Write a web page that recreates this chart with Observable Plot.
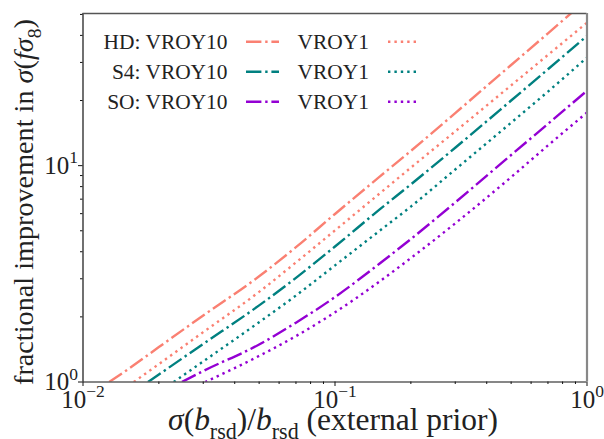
<!DOCTYPE html>
<html><head><meta charset="utf-8">
<script src="https://cdn.jsdelivr.net/npm/d3@7"></script>
<script src="https://cdn.jsdelivr.net/npm/@observablehq/plot@0.6"></script>
<style>body{margin:0;background:#fff}svg{display:block}svg text{font-family:"Liberation Serif","Times New Roman",Times,serif}</style>
</head><body><div id="chart"></div>
<script>
// ---- data ----
const xHD10 = [0.0127, 0.015, 0.02, 0.03, 0.05, 0.07, 0.1, 0.15, 0.2, 0.3, 0.5, 0.7, 1];
const yHD10 = [1.0, 1.14, 1.45, 2.03, 3.08, 4.2, 5.98, 8.87, 11.7, 17.5, 29.2, 40.9, 58.7];
const xHD1  = [0.0159, 0.02, 0.03, 0.05, 0.07, 0.1, 0.15, 0.2, 0.3, 0.5, 0.7, 1];
const yHD1  = [1.0, 1.21, 1.70, 2.61, 3.57, 5.02, 7.42, 9.79, 14.4, 23.5, 32.5, 45.8];
const xS410 = [0.0181, 0.02, 0.03, 0.05, 0.07, 0.1, 0.15, 0.2, 0.3, 0.5, 0.7, 1];
const yS410 = [1.0, 1.083, 1.50, 2.26, 3.03, 4.23, 6.26, 8.19, 12.1, 20.0, 27.9, 39.8];
const xS41  = [0.0229, 0.03, 0.05, 0.07, 0.1, 0.15, 0.2, 0.3, 0.5, 0.7, 1];
const yS41  = [1.0, 1.245, 1.89, 2.51, 3.46, 4.99, 6.47, 9.60, 15.8, 22.0, 31.6];
const xSO10 = [0.0247, 0.03, 0.05, 0.07, 0.1, 0.15, 0.2, 0.3, 0.5, 0.7, 1];
const ySO10 = [1.0, 1.124, 1.49, 1.88, 2.47, 3.52, 4.58, 6.76, 11.2, 15.6, 22.2];
const xSO1  = [0.0305, 0.05, 0.07, 0.1, 0.15, 0.2, 0.3, 0.5, 0.7, 1];
const ySO1  = [1.0, 1.32, 1.63, 2.10, 2.91, 3.74, 5.41, 8.85, 12.4, 17.6];

const surveys = ["HD", "S4", "SO"];
const colors = ["#FA8072", "#008080", "#9400D3"];
const models = ["VROY10", "VROY1"];
const xMajorTicks = [0.01, 0.1, 1];
const xMinorTicks = [0.02,0.03,0.04,0.05,0.06,0.07,0.08,0.09,0.2,0.3,0.4,0.5,0.6,0.7,0.8,0.9];
const yMajorTicks = [1, 10];
const yMinorTicks = [2,3,4,5,6,7,8,9,20,30,40,50];

const dashes = {VROY10: "15.4,3.8,2.4,3.8", VROY1: "2.4,4"};
const seriesList = [
  {survey: "HD", model: "VROY10", xs: xHD10, ys: yHD10},
  {survey: "HD", model: "VROY1",  xs: xHD1,  ys: yHD1},
  {survey: "S4", model: "VROY10", xs: xS410, ys: yS410},
  {survey: "S4", model: "VROY1",  xs: xS41,  ys: yS41},
  {survey: "SO", model: "VROY10", xs: xSO10, ys: ySO10},
  {survey: "SO", model: "VROY1",  xs: xSO1,  ys: ySO1}
];
const colorOf = s => colors[surveys.indexOf(s)];

const FONT = '"Liberation Serif", "Times New Roman", Times, serif';
const INK = "#222";
const TICKFS = 25;

const lineMarks = seriesList.map(s => Plot.line(
  s.xs.map((x, i) => ({x, y: s.ys[i]})),
  {x: "x", y: "y", stroke: colorOf(s.survey), strokeWidth: 2.4,
   strokeDasharray: dashes[s.model], strokeLinecap: "butt",
   curve: "monotone-x", clip: true}
));

const svg = Plot.plot({
  width: 604, height: 439,
  marginLeft: 82.5, marginRight: 17.5, marginTop: 13, marginBottom: 57.5,
  style: {fontFamily: FONT, background: "white", color: INK, overflow: "visible"},
  x: {type: "log", domain: [0.01, 1]},
  y: {type: "log", domain: [1, 50.5]},
  marks: [
    ...lineMarks,
    Plot.axisX(xMinorTicks, {tickSize: 2.5, text: null, label: null, stroke: "#111"}),
    Plot.axisX(xMajorTicks, {tickSize: 4.5, tickPadding: 3.5, fontSize: TICKFS, label: null, stroke: "#111",
      tickFormat: d => "10^" + String(Math.round(Math.log10(d))).replace("-", "\u2212")}),
    Plot.axisY(yMinorTicks, {tickSize: 2.5, text: null, label: null, stroke: "#111"}),
    Plot.axisY(yMajorTicks, {tickSize: 4.5, tickPadding: 0.5, fontSize: TICKFS, label: null, stroke: "#111",
      tickFormat: d => "10^" + String(Math.round(Math.log10(d)))}),
    Plot.ruleX([0.01], {stroke: "#111", strokeWidth: 1.2}),
    Plot.ruleY([1], {stroke: "#111", strokeWidth: 1.2}),
    Plot.ruleY([50.5], {stroke: "#555", strokeWidth: 1.5}),
    Plot.ruleX([1], {stroke: "#888", strokeWidth: 2.2})
  ]
});
document.getElementById("chart").appendChild(svg);

// ---- rich text helper (sub/superscripts, italics) ----
function rich(textSel, parts, fs) {
  textSel.text(null);
  let cur = 0;
  parts.forEach(p => {
    const want = p.s === "sub" ? 0.28 * fs : p.s === "sup" ? -0.42 * fs : 0;
    const ts = textSel.append("tspan").text(p.t);
    if (want !== cur) ts.attr("dy", want - cur);
    cur = want;
    if (p.s) ts.attr("font-size", 0.7 * fs);
    if (p.i) ts.attr("font-style", "italic");
  });
}
// scale a text's font so its rendered length matches a target length
function fit(textSel, parts, fs, target) {
  rich(textSel.attr("font-size", fs), parts, fs);
  const len = textSel.node().getComputedTextLength();
  const f2 = fs * target / len;
  rich(textSel.attr("font-size", f2), parts, f2);
  return f2;
}

const root = d3.select(svg);
root.selectAll('g[aria-label="x-axis tick label"] text, g[aria-label="y-axis tick label"] text').each(function() {
  const [base, exp] = this.textContent.split("^");
  d3.select(this).attr("font-family", FONT);
  rich(d3.select(this), [{t: base}, {t: exp, s: "sup"}], TICKFS);
});

// axis labels
const yl = root.append("text")
  .attr("transform", "translate(33,202) rotate(-90)")
  .attr("text-anchor", "middle").attr("fill", INK)
  .attr("font-family", FONT);
fit(yl, [{t: "fractional improvement in "}, {t: "σ", i: 1}, {t: "("}, {t: "f", i: 1}, {t: "σ", i: 1}, {t: "8", s: "sub"}, {t: ")"}], 25, 366);

const xl = root.append("text")
  .attr("transform", "translate(333,430)")
  .attr("text-anchor", "middle").attr("fill", INK)
  .attr("font-family", FONT);
fit(xl, [{t: "σ", i: 1}, {t: "("}, {t: "b", i: 1}, {t: "rsd", s: "sub"}, {t: ")/"}, {t: "b", i: 1}, {t: "rsd", s: "sub"}, {t: " (external prior)"}], 25, 330);

// legend
const lg = root.append("g").attr("font-family", FONT).attr("fill", INK);
const probe = lg.append("text").text(surveys[0] + ": " + models[0]).attr("font-size", 21);
const lfs = 21 * 124 / probe.node().getComputedTextLength();
probe.remove();
lg.attr("font-size", lfs);
surveys.forEach((s, r) => {
  const cy = 41.7 + 30 * r;
  lg.append("text").attr("x", 227.5).attr("y", cy).attr("dy", "0.35em").attr("text-anchor", "end").text(s + ": " + models[0]);
  lg.append("line").attr("x1", 246).attr("x2", 279).attr("y1", cy).attr("y2", cy)
    .attr("stroke", colors[r]).attr("stroke-width", 2.4).attr("stroke-dasharray", dashes.VROY10);
  lg.append("text").attr("x", 297.5).attr("y", cy).attr("dy", "0.35em").attr("text-anchor", "start").text(models[1]);
  lg.append("line").attr("x1", 388).attr("x2", 420).attr("y1", cy).attr("y2", cy)
    .attr("stroke", colors[r]).attr("stroke-width", 2.4).attr("stroke-dasharray", dashes.VROY1);
});
</script>
</body></html>
